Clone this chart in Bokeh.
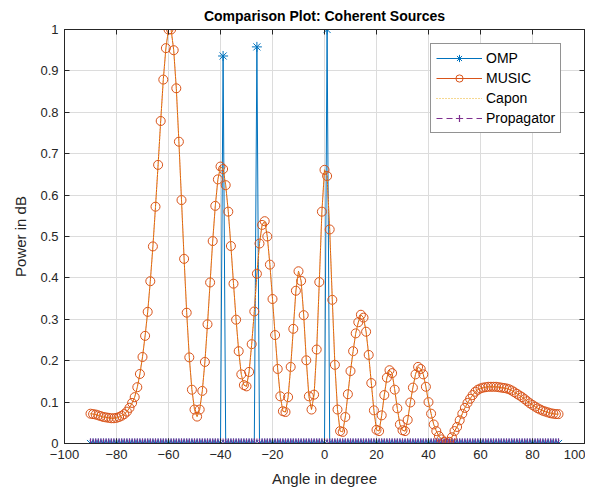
from bokeh.plotting import figure
from bokeh.models import Range1d, LinearAxis, Legend, LegendItem, FixedTicker, CustomJSTickFormatter
from bokeh.embed import file_html
from bokeh.resources import INLINE

angles = list(range(-90, 91))

music = [
    0.072, 0.071, 0.070, 0.068, 0.066, 0.064, 0.063, 0.062, 0.061, 0.061,   # -90..-81
    0.062, 0.064, 0.067, 0.071, 0.077, 0.086, 0.098, 0.112, 0.136, 0.168,   # -80..-71
    0.209, 0.260, 0.318, 0.392, 0.476, 0.572, 0.673, 0.779, 0.879, 0.955,   # -70..-61
    1.000, 1.000, 0.950, 0.858, 0.729, 0.588, 0.446, 0.316, 0.208, 0.130,   # -60..-51
    0.082, 0.065, 0.082, 0.127, 0.197, 0.288, 0.389, 0.489, 0.574, 0.638,   # -50..-41
    0.669, 0.663, 0.624, 0.560, 0.477, 0.386, 0.299, 0.223, 0.167, 0.141,   # -40..-31
    0.138, 0.173, 0.240, 0.319, 0.410, 0.483, 0.528, 0.537, 0.500, 0.432,   # -30..-21
    0.349, 0.262, 0.180, 0.114, 0.078, 0.076, 0.112, 0.185, 0.277, 0.369,   # -20..-11
    0.416, 0.393, 0.310, 0.201, 0.114, 0.082, 0.118, 0.227, 0.390, 0.560,   # -10..-1
    0.661, 0.646, 0.517, 0.347, 0.190, 0.082, 0.030, 0.028, 0.064, 0.119,   # 0..9
    0.175, 0.223, 0.266, 0.293, 0.311, 0.304, 0.270, 0.214, 0.146, 0.080,   # 10..19
    0.033, 0.030, 0.068, 0.117, 0.159, 0.177, 0.170, 0.130, 0.085, 0.046,   # 20..29
    0.032, 0.030, 0.057, 0.099, 0.135, 0.167, 0.185, 0.180, 0.167, 0.137,   # 30..39
    0.100, 0.072, 0.046, 0.030, 0.018, 0.010, 0.004, 0.000, 0.004, 0.015,   # 40..49
    0.030, 0.040, 0.056, 0.072, 0.086, 0.098, 0.108, 0.117, 0.125, 0.130,   # 50..59
    0.133, 0.135, 0.136, 0.137, 0.137, 0.137, 0.137, 0.136, 0.135, 0.134,   # 60..69
    0.133, 0.131, 0.128, 0.124, 0.120, 0.116, 0.112, 0.107, 0.102, 0.097,   # 70..79
    0.093, 0.089, 0.085, 0.082, 0.079, 0.077, 0.075, 0.073, 0.072, 0.071,   # 80..89
    0.071,                                                                  # 90
]
capon = list(music)

omp_peak_angles = [-39, -26, 1]
omp_peak_values = [0.936, 0.958, 1.0]
omp = [0.0] * len(angles)
for a, v in zip(omp_peak_angles, omp_peak_values):
    omp[angles.index(a)] = v

propagator = [0.0] * len(angles)

x_ticks = [-100, -80, -60, -40, -20, 0, 20, 40, 60, 80, 100]
y_ticks = [0, 0.1, 0.2, 0.3, 0.4, 0.5, 0.6, 0.7, 0.8, 0.9, 1.0]

BLUE = "#0072BD"
ORANGE = "#D95319"
YELLOW = "#EDB120"
PURPLE = "#7E2F8E"
AX = "#262626"
FONT = "Liberation Sans"

p = figure(width=585, height=489, x_range=Range1d(-100, 100), y_range=Range1d(0, 1),
           output_backend="svg", toolbar_location=None,
           min_border_left=64, min_border_right=1, min_border_top=4, min_border_bottom=10)

p.title.text = "Comparison Plot: Coherent Sources"
p.title.align = "center"
p.title.text_font = FONT
p.title.text_font_size = "14px"
p.title.text_font_style = "bold"
p.title.text_color = "#000000"
p.title.offset = 0
p.title.standoff = 11

p.background_fill_color = "white"
p.border_fill_color = "white"
p.outline_line_color = AX
p.outline_line_width = 1

p.xgrid.ticker = FixedTicker(ticks=x_ticks)
p.ygrid.ticker = FixedTicker(ticks=y_ticks)
p.xgrid.grid_line_color = "#dcdcdc"
p.ygrid.grid_line_color = "#dcdcdc"

yfmt = CustomJSTickFormatter(code="return String(Math.round(tick*10)/10);")
blank = CustomJSTickFormatter(code="return '';")

for ax in p.xaxis:
    ax.ticker = FixedTicker(ticks=x_ticks)
    ax.axis_label = "Angle in degree"
for ax in p.yaxis:
    ax.ticker = FixedTicker(ticks=y_ticks)
    ax.formatter = yfmt
    ax.axis_label = "Power in dB"

top_ax = LinearAxis(ticker=FixedTicker(ticks=x_ticks), formatter=blank)
right_ax = LinearAxis(ticker=FixedTicker(ticks=y_ticks), formatter=blank)
p.add_layout(top_ax, "above")
p.add_layout(right_ax, "right")

for ax in p.axis:
    ax.axis_line_color = AX
    ax.major_tick_line_color = AX
    ax.major_tick_in = 5
    ax.major_tick_out = 0
    ax.minor_tick_line_color = None
    ax.major_label_text_font = FONT
    ax.major_label_text_font_size = "13px"
    ax.major_label_text_color = AX
    ax.axis_label_text_font = FONT
    ax.axis_label_text_font_size = "15px"
    ax.axis_label_text_font_style = "normal"
    ax.axis_label_text_color = AX
    ax.major_label_standoff = 6
    ax.axis_label_standoff = 8
for ax in (top_ax, right_ax):
    ax.major_label_standoff = 0
    ax.axis_label_standoff = 0
    ax.axis_label = None

# OMP
r_omp_l = p.line(angles, omp, line_color=BLUE, line_width=1)
r_omp_m = p.scatter(angles, omp, marker="asterisk", size=10, line_color=BLUE, line_width=1)
# MUSIC
r_mus_l = p.line(angles, music, line_color=ORANGE, line_width=1)
r_mus_m = p.scatter(angles, music, marker="circle", size=9, line_color=ORANGE,
                    fill_color=None, line_width=1)
# Capon
r_cap_l = p.line(angles, capon, line_color=YELLOW, line_width=1, line_dash="1 2")
# Propagator
r_pro_l = p.line(angles, propagator, line_color=PURPLE, line_width=1, line_dash="6 4")
r_pro_m = p.scatter(angles, propagator, marker="cross", size=10, line_color=PURPLE, line_width=1.2)

legend = Legend(items=[
    LegendItem(label="OMP", renderers=[r_omp_l, r_omp_m]),
    LegendItem(label="MUSIC", renderers=[r_mus_l, r_mus_m]),
    LegendItem(label="Capon", renderers=[r_cap_l]),
    LegendItem(label="Propagator", renderers=[r_pro_l, r_pro_m]),
], location=(366, 310))
legend.border_line_color = AX
legend.border_line_width = 1
legend.background_fill_color = "white"
legend.background_fill_alpha = 1
legend.label_text_font = FONT
legend.label_text_font_size = "14px"
legend.label_text_color = "#000000"
legend.glyph_width = 46
legend.glyph_height = 18
legend.label_height = 18
legend.spacing = 2
legend.padding = 5
legend.margin = 0
legend.label_standoff = 4
p.add_layout(legend, "center")

open("out.html", "w").write(file_html(p, INLINE))
